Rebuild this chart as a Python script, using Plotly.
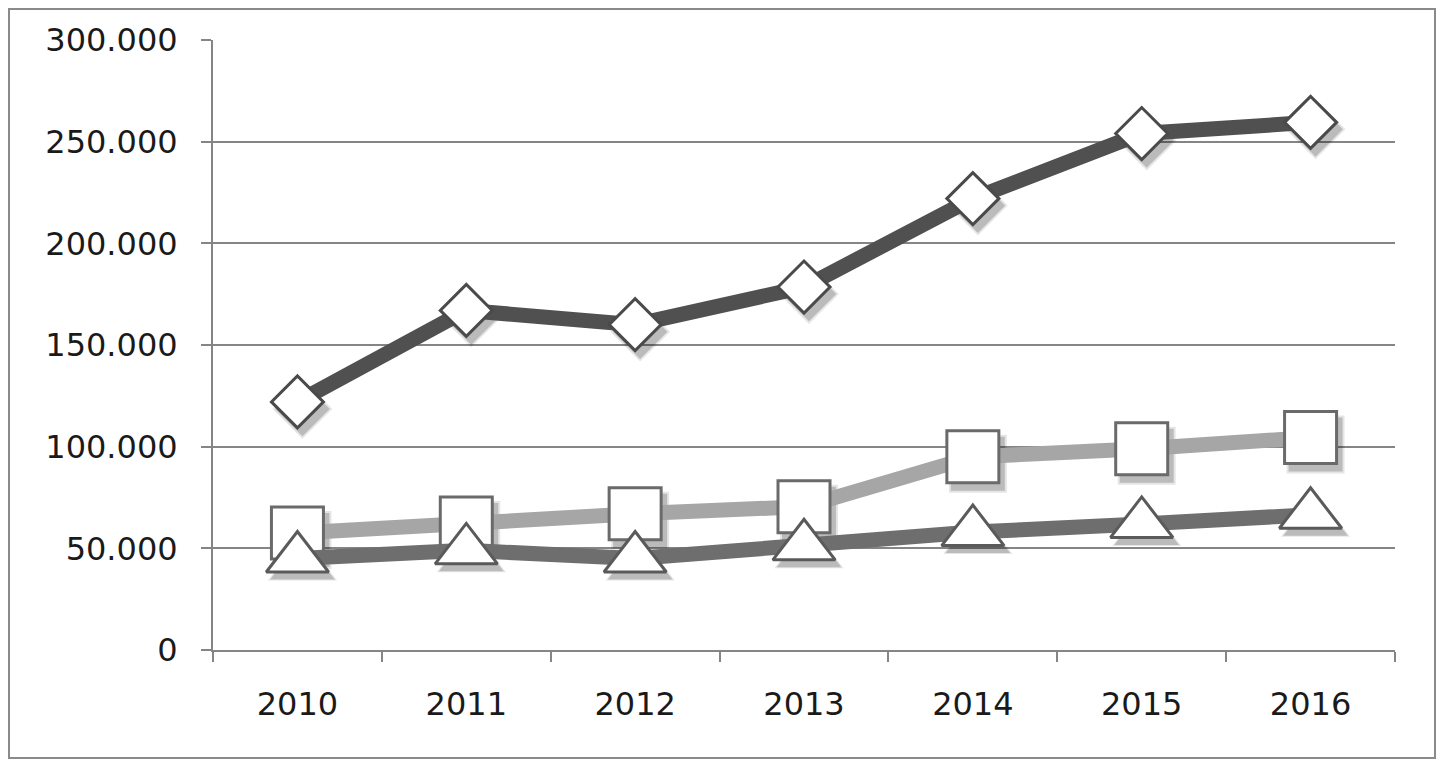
import plotly.graph_objects as go

years = ["2010", "2011", "2012", "2013", "2014", "2015", "2016"]
series_diamond = [122000, 167000, 160000, 178500, 222000, 254000, 259500]
series_square = [57500, 62500, 67000, 70500, 95000, 99000, 104500]
series_triangle = [45000, 49000, 45000, 51000, 58000, 62000, 66500]
y_ticks = [0, 50000, 100000, 150000, 200000, 250000, 300000]

# the page has an 8px body margin, so the figure is drawn 8px in from the edge
W, H = 1429, 752
L, R, T, B = 205, 42, 32, 110
pw, ph = W - L - R, H - T - B

Y_MAX = 300000
N = len(years)
axis_col = "#858585"
font = dict(family="DejaVu Sans, Verdana, sans-serif", size=32, color="#1a1a1a")

# shadow offset in pixels, converted to axis units for a shifted hidden axis
SDX, SDY = 5, 7
dx = SDX / pw * N
dy = SDY / ph * Y_MAX

fig = go.Figure()

specs = [
    (series_diamond, "#505050", "diamond", 40, "#4a4a4a"),
    (series_square, "#a6a6a6", "square", 52, "#6a6a6a"),
    (series_triangle, "#6e6e6e", "triangle-up", 54, "#5a5a5a"),
]

# soft shadows (on hidden, shifted base axes)
for vals, lc, sym, sz, mc in specs:
    for extra, alpha in ((6, 0.10), (2, 0.18)):
        fig.add_trace(go.Scatter(
            x=years, y=vals, mode="markers", xaxis="x", yaxis="y",
            marker=dict(symbol=sym, size=sz + extra, color=f"rgba(0,0,0,{alpha})",
                        line=dict(width=0)),
            hoverinfo="skip",
        ))

# main series (on visible overlay axes)
for vals, lc, sym, sz, mc in specs:
    fig.add_trace(go.Scatter(
        x=years, y=vals, mode="lines+markers", xaxis="x2", yaxis="y2",
        line=dict(color=lc, width=15),
        marker=dict(symbol=sym, size=sz, color="white",
                    line=dict(color=mc, width=3)),
    ))

fig.add_shape(type="rect", xref="paper", yref="paper",
              x0=-(L - 1) / pw, x1=1 + (R - 2) / pw,
              y0=-(B - 2) / ph, y1=1 + (T - 1) / ph,
              line=dict(color="#8a8a8a", width=2), fillcolor="rgba(0,0,0,0)",
              layer="below")

fig.update_layout(
    width=W, height=H,
    margin=dict(l=L, r=R, t=T, b=B),
    paper_bgcolor="white", plot_bgcolor="white",
    showlegend=False,
    separators=",.",
    font=font,
    xaxis=dict(type="category", range=[-0.5 - dx, N - 0.5 - dx],
               visible=False, showgrid=False, zeroline=False),
    yaxis=dict(range=[dy, Y_MAX + dy], visible=False, showgrid=False,
               zeroline=False),
    xaxis2=dict(type="category", overlaying="x", anchor="y2",
                range=[-0.5, N - 0.5], tickson="boundaries",
                ticks="outside", ticklen=10, tickwidth=2, tickcolor=axis_col,
                showline=True, linecolor=axis_col, linewidth=2,
                showgrid=False, zeroline=False, tickfont=font,
                ticklabelstandoff=25),
    yaxis2=dict(overlaying="y", anchor="x2", side="left",
                range=[0, Y_MAX], tickvals=y_ticks, tickformat=",d",
                ticks="outside", ticklen=10, tickwidth=2, tickcolor=axis_col,
                showline=True, linecolor=axis_col, linewidth=2,
                showgrid=True, gridcolor=axis_col, gridwidth=2,
                zeroline=False, tickfont=font, ticklabelstandoff=17),
)

fig.write_html("out.html")
